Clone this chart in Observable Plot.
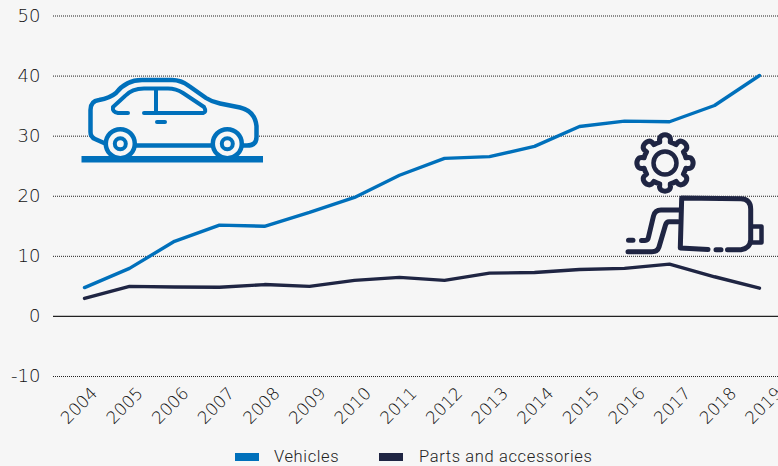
<!DOCTYPE html>
<html>
<head>
<meta charset="utf-8">
<script src="https://cdn.jsdelivr.net/npm/d3@7"></script>
<script src="https://cdn.jsdelivr.net/npm/@observablehq/plot@0.6"></script>
<style>
html,body{margin:0;padding:0;background:#f6f6f6;width:778px;height:466px;overflow:hidden}
#chart svg{display:block}
#legend{position:absolute;left:0;top:445px;width:778px;height:21px;font:16.5px "Roboto",sans-serif;font-weight:300;color:#222;letter-spacing:.63px}
#legend span{position:absolute;top:2px;white-space:nowrap}
#legend i{position:absolute;top:8px;width:24px;height:8px;display:block}
</style>
</head>
<body>
<div id="chart"></div>
<div id="legend"></div>
<script>
const years = [2004,2005,2006,2007,2008,2009,2010,2011,2012,2013,2014,2015,2016,2017,2018,2019];
const vehicles = [4.8,8.0,12.5,15.2,15.0,17.3,19.8,23.5,26.3,26.6,28.3,31.6,32.5,32.4,35.1,40.1];
const parts = [3.0,5.0,4.9,4.85,5.3,5.0,6.0,6.5,6.0,7.2,7.3,7.8,8.0,8.7,6.6,4.7];
const gridTicks = [-10,10,20,30,40,50];
const yTicks = [-10,0,10,20,30,40,50];
const seriesNames = ["Vehicles","Parts and accessories"];
const BLUE = "#0070bb", NAVY = "#1f2543", BG = "#f6f6f6";

const rows = years.flatMap((y,i)=>[
  {year:y,value:vehicles[i],series:seriesNames[0]},
  {year:y,value:parts[i],series:seriesNames[1]}
]);

function gearPath(cx,cy){
  const teeth=8;
  const R=27.5, r=21.5;
  let d="";
  for(let k=0;k<teeth;k++){
    const a=-Math.PI/2+k*2*Math.PI/teeth, w=Math.PI/teeth;
    const p=(rad,ang)=>`${(cx+rad*Math.cos(ang)).toFixed(1)},${(cy+rad*Math.sin(ang)).toFixed(1)}`;
    d+=(k?"L":"M")+p(r,a-w*0.62)+"Q"+p(R-1,a-w*0.6)+" "+p(R,a-w*0.32)+"Q"+p(R+1.5,a)+" "+p(R,a+w*0.32)+"Q"+p(R-1,a+w*0.6)+" "+p(r,a+w*0.62)+"A"+r+","+r+" 0 0 1 "+p(r,a+w*1.38);
  }
  return d+"Z";
}

function icons(){
  const g=d3.create("svg:g").attr("fill","none").attr("stroke-linecap","round").attr("stroke-linejoin","round");
  const car=g.append("g").attr("stroke",BLUE).attr("stroke-width",4.5);
  car.append("path").attr("fill",BG).attr("d","M104,143 L95,139 Q90.5,137 90.5,132 L90.5,110 Q90.5,101 99,100 Q110,98 116,93 Q126,80 142,80 L172,80 Q181,80 189,86 L206,98 Q212,102 220,103.5 L240,107.5 Q255,111 256.5,126 L256.5,137 Q256.5,145.5 247,145.5 L243,145.5 L212,145.5 L137,145.5 Z");
  car.append("path").attr("d","M128,113 L118,113 Q112,112 113,107 L125,96 Q132,88.5 144,88.5 L168,88.5 Q176,88.5 183,93 L204,107 Q207,112 203,113 L144,113 M156,89 L156,113").attr("stroke-width",4);
  car.append("path").attr("d","M157,122 L165,122").attr("stroke-width",4);
  for(const cx of [120.3,227.3]){
    car.append("circle").attr("cx",cx).attr("cy",143.7).attr("r",14.5).attr("fill",BG);
    car.append("circle").attr("cx",cx).attr("cy",143.7).attr("r",5.5).attr("stroke-width",4);
  }
  g.append("rect").attr("x",81.5).attr("y",156).attr("width",181.5).attr("height",6.5).attr("fill",BLUE);
  const n=g.append("g").attr("stroke",NAVY).attr("stroke-width",5);
  n.append("path").attr("d",gearPath(665,163)).attr("fill",BG);
  n.append("circle").attr("cx",665).attr("cy",163).attr("r",11.5).attr("stroke-width",4.5);
  n.append("path").attr("d","M727.5,249.7 L741,249.7 Q750,248.5 750.7,240 L750.7,209 Q750.5,199 741,198.7 L681.7,198 L680.3,248 L708,249.5 M716,249.7 L721,249.7");
  n.append("path").attr("d","M752,226.5 L761.5,226.5 L761.5,242.5 L752,242.5").attr("stroke-width",4.5);
  n.append("path").attr("d","M680,210 L661,210 Q655,210 653.5,216 L648.5,237 Q648,240.5 645,240.5 L641.5,240.5 M628.5,240.3 L633,240.3");
  n.append("path").attr("d","M678,221.7 L669,221.7 Q666.5,221.7 665.5,225 L659,247 Q657.5,251.7 652,251.7 L628,251.7");
  return g.node();
}

const yearLabels = years.map((yr,i)=>Plot.text([yr],{
  x:d=>d, y:()=>-10, text:d=>String(d), rotate:-45, textAnchor:"end",
  dx:10+i*0.64, dy:14, fontSize:17, fill:"#111", fontWeight:200
}));

const plot = Plot.plot({
  width:778, height:445,
  marginTop:15.5, marginBottom:69, marginLeft:53, marginRight:0,
  style:{background:"transparent",fontFamily:"'DejaVu Sans',sans-serif"},
  x:{type:"point",domain:years,range:[79.7,762.7],padding:0,axis:null},
  y:{domain:[-10,50],range:[376,15.5]},
  color:{domain:seriesNames,range:[BLUE,NAVY]},
  marks:[
    Plot.ruleY(gridTicks,{stroke:"#222",strokeWidth:1,strokeDasharray:"1,1"}),
    Plot.ruleY([0],{stroke:"#222",strokeWidth:1.4}),
    Plot.axisY({ticks:yTicks,tickFormat:d=>String(d),tickSize:0,tickPadding:13,label:null,fontSize:18,fill:"#111",fontWeight:200}),
    ...yearLabels,
    Plot.line(rows,{x:"year",y:"value",stroke:"series",strokeWidth:3.4,strokeLinecap:"round",strokeLinejoin:"round"}),
    ()=>icons()
  ]
});
document.getElementById("chart").appendChild(plot);

const legendSpots=[[235,274],[379,419]];
const lg=document.getElementById("legend");
seriesNames.forEach((n,i)=>{
  const sw=document.createElement("i");sw.style.left=legendSpots[i][0]+"px";sw.style.background=[BLUE,NAVY][i];lg.appendChild(sw);
  const t=document.createElement("span");t.style.left=legendSpots[i][1]+"px";t.textContent=n;lg.appendChild(t);
});
</script>
</body>
</html>
